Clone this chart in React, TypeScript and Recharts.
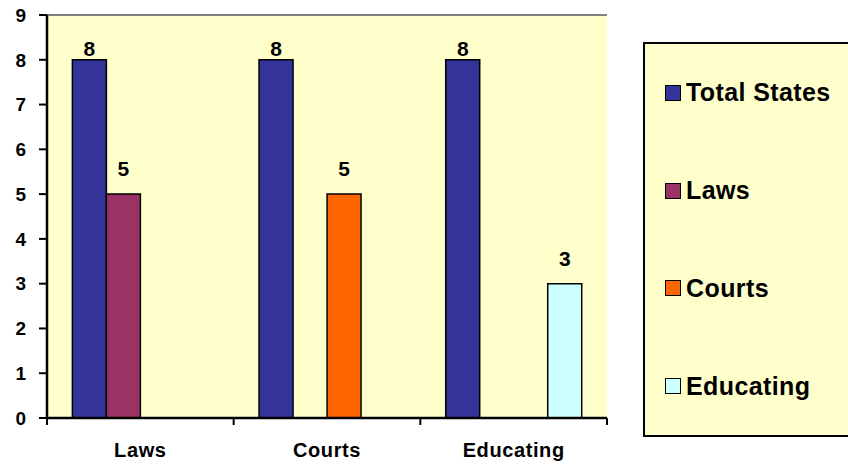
import React from 'react';
import { BarChart, Bar, XAxis, YAxis, CartesianGrid, ReferenceLine, LabelList, Legend } from 'recharts';

const categories = ['Laws', 'Courts', 'Educating'];
const totalStates = [8, 8, 8];
const lawsValues = [5, null, null];
const courtsValues = [null, 5, null];
const educatingValues = [null, null, 3];
const yTicks = [0, 1, 2, 3, 4, 5, 6, 7, 8, 9];

const seriesNames = ['Total States', 'Laws', 'Courts', 'Educating'];
const seriesKeys = ['total', 'laws', 'courts', 'educating'];
const seriesColors = ['#333399', '#993366', '#FF6600', '#CCFFFF'];

const data = categories.map((c, i) => ({
  name: c,
  total: totalStates[i],
  laws: lawsValues[i],
  courts: courtsValues[i],
  educating: educatingValues[i],
}));

const FONT = '"Liberation Sans", Arial, sans-serif';

const XTick = (props: any) => {
  const { x, y, payload, index, visibleTicksCount, width } = props;
  const half = payload && payload.offset ? payload.offset : width / visibleTicksCount / 2;
  const lines = [x - half];
  if (index === visibleTicksCount - 1) lines.push(x + half);
  return (
    <g>
      {lines.map((lx, k) => (
        <line key={k} x1={lx} x2={lx} y1={y - 7} y2={y} stroke="#000" strokeWidth={2} />
      ))}
      <text x={x} y={y} dy={32} textAnchor="middle" fill="#000" fontFamily={FONT} fontWeight="bold" fontSize={20} letterSpacing={0.6}>
        {payload.value}
      </text>
    </g>
  );
};

const LegendContent = () => (
  <div
    style={{
      width: 215,
      height: 395,
      boxSizing: 'border-box',
      border: '2px solid #000',
      background: '#FFFFCC',
      display: 'flex',
      flexDirection: 'column',
      justifyContent: 'space-around',
      paddingLeft: 20,
      fontFamily: FONT,
    }}
  >
    {seriesNames.map((n, i) => (
      <div key={n} style={{ display: 'flex', alignItems: 'center', height: 28 }}>
        <span
          style={{
            display: 'inline-block',
            width: 14,
            height: 14,
            background: seriesColors[i],
            border: '1.5px solid #000',
            marginRight: 5,
          }}
        />
        <span style={{ fontSize: 25, fontWeight: 'bold', color: '#000', letterSpacing: 0.4, whiteSpace: 'nowrap' }}>{n}</span>
      </div>
    ))}
  </div>
);

const labelOffsets = [4, 18, 18, 18];

export default function App() {
  return (
    <div style={{ position: 'absolute', left: 0, top: 0, width: 848, height: 466, overflow: 'hidden', background: '#fff' }}>
      <BarChart
        width={848}
        height={466}
        data={data}
        margin={{ top: 15, right: 241, bottom: 0, left: 0 }}
        barGap={0}
        barCategoryGap="13.6%"
      >
        <CartesianGrid horizontal={false} vertical={false} fill="#FFFFCC" fillOpacity={1} stroke="none" />
        <XAxis
          dataKey="name"
          height={48}
          tickLine={false}
          tickSize={7}
          tickMargin={0}
          axisLine={{ stroke: '#000', strokeWidth: 2.5 }}
          tick={<XTick />}
          interval={0}
        />
        <YAxis
          yAxisId="left"
          width={47}
          domain={[0, 9]}
          ticks={yTicks}
          interval={0}
          tickSize={8}
          tickMargin={13}
          axisLine={{ stroke: '#000', strokeWidth: 2.5 }}
          tickLine={{ stroke: '#000', strokeWidth: 2 }}
          tick={{ fill: '#000', fontFamily: FONT, fontWeight: 'bold', fontSize: 19 }}
        />
        <YAxis
          yAxisId="right"
          orientation="right"
          width={0}
          domain={[0, 9]}
          tick={false}
          tickLine={false}
          axisLine={{ stroke: '#808080', strokeWidth: 2 }}
        />
        <ReferenceLine yAxisId="left" y={9} stroke="#808080" strokeWidth={2} />
        {seriesKeys.map((k, i) => (
          <Bar
            key={k}
            yAxisId="left"
            dataKey={k}
            name={seriesNames[i]}
            fill={seriesColors[i]}
            stroke="#000"
            strokeWidth={1.5}
            isAnimationActive={false}
          >
            <LabelList
              dataKey={k}
              position="top"
              offset={labelOffsets[i]}
              fill="#000"
              fontFamily={FONT}
              fontWeight="bold"
              fontSize={21}
            />
          </Bar>
        ))}
        <Legend
          layout="horizontal"
          verticalAlign="middle"
          align="center"
          content={<LegendContent />}
          wrapperStyle={{ position: 'absolute', left: 643, top: 42, width: 215, height: 395, margin: 0 }}
        />
      </BarChart>
    </div>
  );
}
